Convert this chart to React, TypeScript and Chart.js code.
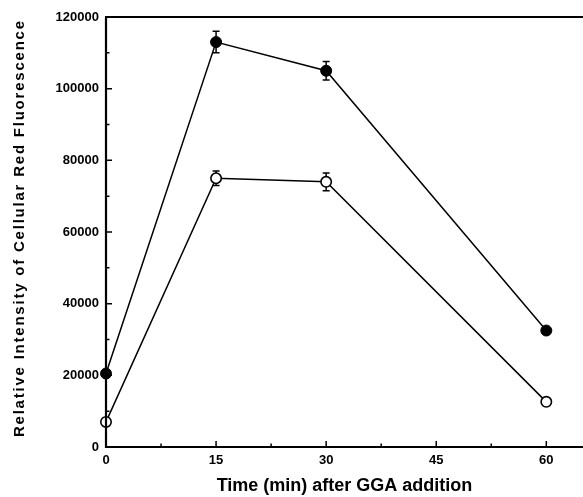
import React, { useEffect, useRef } from "react";
import { Chart, registerables } from "chart.js";

Chart.register(...registerables);

const times = [0, 15, 30, 60];
const filledMean = [20500, 113000, 105000, 32500];
const filledErr = [900, 3000, 2600, 700];
const openMean = [7000, 75000, 74000, 12600];
const openErr = [1000, 2000, 2500, 600];
const xTicks = [0, 15, 30, 45, 60];
const yTicks = [0, 20000, 40000, 60000, 80000, 100000, 120000];
const xTitle = "Time (min) after GGA addition";
const yTitle = "Relative Intensity of Cellular Red Fluorescence";

const FONT = "'Liberation Sans', Arial, Helvetica, sans-serif";

const decorPlugin = {
  id: "decor",
  beforeDatasetsDraw(chart: any) {
    const ctx = chart.ctx;
    const errs = [filledErr, openErr];
    const xs = chart.scales.x;
    const ys = chart.scales.y;
    ctx.save();
    ctx.strokeStyle = "#000";
    ctx.lineWidth = 1.5;
    chart.data.datasets.forEach((ds: any, di: number) => {
      ds.data.forEach((p: any, i: number) => {
        const e = errs[di][i];
        const px = xs.getPixelForValue(p.x);
        const top = ys.getPixelForValue(p.y + e);
        const bot = ys.getPixelForValue(p.y - e);
        ctx.beginPath();
        ctx.moveTo(px, top);
        ctx.lineTo(px, bot);
        ctx.moveTo(px - 3.5, top);
        ctx.lineTo(px + 3.5, top);
        ctx.moveTo(px - 3.5, bot);
        ctx.lineTo(px + 3.5, bot);
        ctx.stroke();
      });
    });
    ctx.restore();
  },
  afterDraw(chart: any) {
    const ctx = chart.ctx;
    const a = chart.chartArea;
    const xs = chart.scales.x;
    const ys = chart.scales.y;
    ctx.save();
    ctx.strokeStyle = "#000";
    ctx.lineWidth = 1.5;
    ctx.beginPath();
    for (let i = 0; i < yTicks.length; i++) {
      const py = ys.getPixelForValue(yTicks[i]);
      ctx.moveTo(a.left, py);
      ctx.lineTo(a.left + 6, py);
      if (i < yTicks.length - 1) {
        const pm = ys.getPixelForValue((yTicks[i] + yTicks[i + 1]) / 2);
        ctx.moveTo(a.left, pm);
        ctx.lineTo(a.left + 3.5, pm);
      }
    }
    for (let i = 0; i < xTicks.length; i++) {
      const px = xs.getPixelForValue(xTicks[i]);
      ctx.moveTo(px, a.bottom);
      ctx.lineTo(px, a.bottom - 6);
      const pm = xs.getPixelForValue(xTicks[i] + 7.5);
      if (pm < a.right) {
        ctx.moveTo(pm, a.bottom);
        ctx.lineTo(pm, a.bottom - 3.5);
      }
    }
    ctx.stroke();
    ctx.lineWidth = 2.2;
    ctx.beginPath();
    ctx.moveTo(a.left, a.top);
    ctx.lineTo(a.left, a.bottom);
    ctx.lineTo(a.right, a.bottom);
    ctx.moveTo(a.left - 1, a.top);
    ctx.lineTo(a.right, a.top);
    ctx.stroke();
    // y title, stretched to span the reference length
    ctx.fillStyle = "#000";
    ctx.font = "bold 15px " + FONT;
    const w = ctx.measureText(yTitle).width;
    const target = 416;
    const sp = (target - w) / (yTitle.length - 1);
    (ctx as any).letterSpacing = sp.toFixed(2) + "px";
    ctx.translate(20, 229);
    ctx.rotate(-Math.PI / 2);
    ctx.textAlign = "center";
    ctx.textBaseline = "middle";
    ctx.fillText(yTitle, sp / 2, 0);
    ctx.restore();
  },
};

export default function App() {
  const ref = useRef<HTMLCanvasElement>(null);
  useEffect(() => {
    document.body.style.margin = "0";
    const canvas = ref.current!;
    const chart = new Chart(canvas, {
      type: "line",
      data: {
        datasets: [
          {
            label: "filled",
            data: times.map((t, i) => ({ x: t, y: filledMean[i] })),
            borderColor: "#000",
            borderWidth: 1.5,
            backgroundColor: "#000",
            pointBackgroundColor: "#000",
            pointBorderColor: "#000",
            pointBorderWidth: 1,
            pointRadius: 5.5,
            tension: 0,
            clip: false,
          },
          {
            label: "open",
            data: times.map((t, i) => ({ x: t, y: openMean[i] })),
            borderColor: "#000",
            borderWidth: 1.5,
            backgroundColor: "#fff",
            pointBackgroundColor: "#fff",
            pointBorderColor: "#000",
            pointBorderWidth: 1.6,
            pointRadius: 5.2,
            tension: 0,
            clip: false,
          },
        ],
      },
      options: {
        animation: false,
        responsive: false,
        maintainAspectRatio: false,
        layout: { autoPadding: false, padding: { top: 17, right: 0, left: 0, bottom: 0 } },
        plugins: {
          legend: { display: false },
          tooltip: { enabled: false },
          title: { display: false },
        },
        scales: {
          x: {
            type: "linear",
            min: 0,
            max: 65,
            afterBuildTicks: (s: any) => {
              s.ticks = xTicks.map((v) => ({ value: v }));
            },
            afterFit: (s: any) => {
              s.height = 50;
            },
            grid: { display: false, drawTicks: false },
            border: { display: false },
            ticks: {
              color: "#000",
              padding: 6,
              font: { family: FONT, size: 13, weight: "bold" },
              maxRotation: 0,
            },
            title: {
              display: true,
              text: xTitle,
              color: "#000",
              font: { family: FONT, size: 18, weight: "bold" },
              padding: { top: 5, bottom: 0 },
            },
          },
          y: {
            type: "linear",
            min: 0,
            max: 120000,
            afterBuildTicks: (s: any) => {
              s.ticks = yTicks.map((v) => ({ value: v }));
            },
            afterFit: (s: any) => {
              s.width = 106;
            },
            grid: { display: false, drawTicks: false },
            border: { display: false },
            ticks: {
              color: "#000",
              padding: 7,
              font: { family: FONT, size: 13, weight: "bold" },
              callback: (v: any) => String(v),
            },
          },
        },
      },
      plugins: [decorPlugin],
    } as any);
    return () => chart.destroy();
  }, []);
  return (
    <div style={{ width: 583, height: 497 }}>
      <canvas ref={ref} width={583} height={497} style={{ display: "block" }} />
    </div>
  );
}
